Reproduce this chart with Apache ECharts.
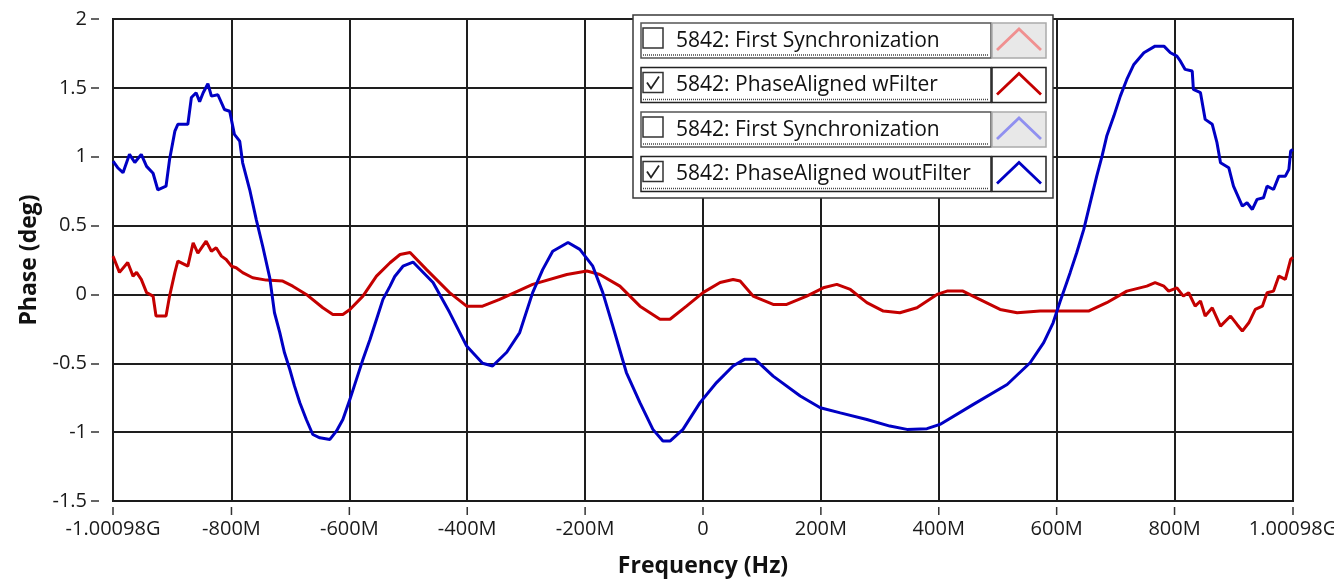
<!DOCTYPE html>
<html>
<head>
<meta charset="utf-8">
<title>Phase vs Frequency</title>
<script src="https://cdn.jsdelivr.net/npm/echarts@6/dist/echarts.min.js"></script>
<style>
  html, body { margin: 0; padding: 0; background: #fff; }
  #chart { width: 1334px; height: 582px; }
</style>
</head>
<body>
<div id="chart"></div>
<script>
// x in MHz, y in degrees
const xTicks = [-1000.98, -800, -600, -400, -200, 0, 200, 400, 600, 800, 1000.98];

const freqRed = [-1000.98, -990, -976, -967, -961, -953, -944, -933, -928, -911, -905, -896, -891, -874,
  -865, -857, -843, -834, -826, -817, -809, -800, -792, -781, -764, -741, -713, -696, -673, -645, -628,
  -611, -599, -577, -554, -531, -514, -497, -469, -430, -401, -374, -345, -289, -231, -197, -175, -141,
  -107, -73, -56, -28, 0, 29, 51, 63, 85, 119, 142, 176, 204, 227, 250, 278, 306, 334, 363, 397, 414,
  441, 458, 504, 533, 572, 654, 685, 719, 753, 767, 782, 790, 804, 815, 824, 835, 844, 852, 864, 878,
  895, 906, 915, 926, 937, 949, 957, 968, 977, 988, 997, 1000.98];
const phaseRed = [0.278, 0.16, 0.232, 0.133, 0.16, 0.109, 0.013, -0.012, -0.157, -0.157, -0.012, 0.16, 0.242, 0.205,
  0.375, 0.30, 0.387, 0.314, 0.339, 0.278, 0.254, 0.205, 0.194, 0.158, 0.121, 0.104, 0.097, 0.06, 0, -0.097, -0.145,
  -0.145, -0.109, -0.012, 0.133, 0.23, 0.29, 0.305, 0.18, 0.013, -0.085, -0.085, -0.036, 0.073, 0.145, 0.17, 0.145, 0.06,
  -0.085, -0.18, -0.18, -0.085, 0.013, 0.087, 0.109, 0.097, -0.012, -0.073, -0.073, -0.012, 0.048, 0.073, 0.036, -0.06, -0.121, -0.133, -0.097, 0, 0.024,
  0.024, -0.012, -0.109, -0.133, -0.121, -0.121, -0.06, 0.024, 0.06, 0.085, 0.06, 0.024, 0.048, -0.012, 0.012, -0.085, -0.048, -0.157, -0.097, -0.23,
  -0.157, -0.218, -0.266, -0.206, -0.109, -0.085, 0.012, 0.024, 0.133, 0.109, 0.254, 0.27];

const freqBlue = [-1000.98, -993, -984, -973, -964, -953, -944, -933, -925, -911, -905, -896, -891, -874,
  -868, -860, -854, -848, -840, -834, -823, -812, -803, -795, -786, -781, -769, -758, -747, -735, -727,
  -718, -710, -701, -693, -684, -673, -662, -650, -633, -622, -611, -599, -588, -577, -565, -554, -543,
  -531, -523, -509, -492, -458, -430, -401, -374, -357, -333, -311, -289, -272, -255, -229, -209, -187,
  -170, -153, -130, -107, -85, -68, -56, -34, -5, 23, 51, 71, 88, 119, 165, 199, 233, 278, 317, 346, 380,
  402, 458, 516, 555, 578, 594, 606, 617, 623, 634, 646, 657, 668, 677, 685, 697, 708, 719, 731, 748, 767,
  782, 793, 804, 810, 818, 830, 832, 844, 852, 864, 872, 878, 892, 900, 915, 923, 932, 940, 951, 957, 968,
  977, 988, 994, 997, 1000.98];
const phaseBlue = [0.968, 0.92, 0.884, 1.017, 0.958, 1.017, 0.93, 0.88, 0.76, 0.786, 0.98, 1.186, 1.235, 1.235,
  1.43, 1.465, 1.40, 1.465, 1.53, 1.44, 1.45, 1.343, 1.33, 1.162, 1.113, 0.956, 0.76, 0.545, 0.35, 0.12, -0.133,
  -0.278, -0.424, -0.545, -0.666, -0.786, -0.908, -1.017, -1.041, -1.053, -0.993, -0.908, -0.762, -0.617, -0.472, -0.327, -0.182, -0.036,
  0.06, 0.13, 0.205, 0.235, 0.087, -0.13, -0.375, -0.50, -0.52, -0.42, -0.277, 0.013, 0.18, 0.314, 0.377, 0.327, 0.205,
  0.013, -0.23, -0.567, -0.786, -0.98, -1.065, -1.065, -0.98, -0.786, -0.64, -0.52, -0.47, -0.47, -0.593, -0.738, -0.823, -0.86, -0.908, -0.956, -0.98, -0.975,
  -0.944, -0.80, -0.654, -0.496, -0.35, -0.206, -0.05, 0.085, 0.16, 0.303, 0.472, 0.666, 0.859, 1.004, 1.15, 1.295, 1.44, 1.561, 1.67, 1.755, 1.803,
  1.803, 1.755, 1.73, 1.694, 1.634, 1.622, 1.489, 1.465, 1.271, 1.235, 1.102, 0.956, 0.92, 0.786, 0.641, 0.666, 0.617, 0.69, 0.702, 0.786, 0.762,
  0.859, 0.859, 0.908, 1.041, 1.053];

const legendNames = ['5842: First Synchronization', '5842: PhaseAligned wFilter',
  '5842: First Synchronization', '5842: PhaseAligned woutFilter'];
const legendChecked = [false, true, false, true];
const legendColors = ['#f09090', '#c40000', '#9090f0', '#0000c4'];

const font = '"Open Sans", "Noto Sans", sans-serif';
const red = '#c40000';
const blue = '#0000c4';

const fmtFreq = v => {
  if (Math.abs(v) > 1000) return (v / 1000).toFixed(5) + 'G';
  if (v === 0) return '0';
  return v + 'M';
};

// legend box drawn by hand: checkboxes and line icons like the original
const legendParts = [{
  type: 'rect', shape: { x: 0, y: 0, width: 420, height: 183 },
  style: { fill: '#fff', stroke: '#3a3a3a', lineWidth: 1.5 }
}];
legendNames.forEach((name, i) => {
  const top = 8 + i * 44.5;
  const on = legendChecked[i];
  legendParts.push(
    { type: 'rect', shape: { x: 8, y: top, width: 350, height: 35 },
      style: { fill: '#fff', stroke: on ? '#222' : '#555', lineWidth: 1.5 } },
    { type: 'line', shape: { x1: 10, y1: top + 32, x2: 356, y2: top + 32 },
      style: { stroke: '#444', lineWidth: 1.5, lineDash: [1, 1] } },
    { type: 'rect', shape: { x: 10, y: top + 5, width: 20, height: 20 },
      style: { fill: '#fff', stroke: '#333', lineWidth: 1.5 } },
    { type: 'text', x: 43, y: top + 18,
      style: { text: name, fontFamily: font, fontSize: 21, fill: '#111', verticalAlign: 'middle' } },
    { type: 'rect', shape: { x: 359, y: top, width: 54, height: 35 },
      style: { fill: on ? '#fff' : '#e8e8e8', stroke: on ? '#222' : '#aaa', lineWidth: 1.5 } },
    { type: 'polyline', shape: { points: [[364, top + 27], [386, top + 6], [408, top + 27]] },
      style: { stroke: legendColors[i], lineWidth: 2.8, fill: null } }
  );
  if (on) {
    legendParts.push({ type: 'polyline', shape: { points: [[14, top + 15], [18, top + 21], [26, top + 9]] },
      style: { stroke: '#222', lineWidth: 1.8, fill: null } });
  }
});

const chart = echarts.init(document.getElementById('chart'));
chart.setOption({
  animation: false,
  backgroundColor: '#fff',
  grid: {
    left: 113, right: 41, top: 19, bottom: 81,
    show: true, borderColor: '#1a1a1a', borderWidth: 2, backgroundColor: '#fff',
    containLabel: false, outerBoundsMode: 'none'
  },
  xAxis: {
    type: 'value', min: -1000.98, max: 1000.98,
    name: 'Frequency (Hz)', nameLocation: 'middle', nameGap: 54,
    nameTextStyle: { fontFamily: font, fontSize: 23, fontWeight: 'bold', color: '#111' },
    axisLine: { show: true, onZero: false, lineStyle: { color: '#1a1a1a', width: 2 } },
    axisTick: { show: false, customValues: xTicks },
    axisLabel: { customValues: xTicks, formatter: fmtFreq, margin: 18, fontFamily: font, fontSize: 20,
      color: '#1a1a1a', showMinLabel: true, showMaxLabel: true, hideOverlap: false },
    splitLine: { show: true, lineStyle: { color: '#1e1e1e', width: 2 } }
  },
  yAxis: {
    type: 'value', min: -1.5, max: 2, interval: 0.5, offset: 14,
    name: 'Phase (deg)', nameLocation: 'middle', nameGap: 58,
    nameTextStyle: { fontFamily: font, fontSize: 23, fontWeight: 'bold', color: '#111' },
    axisLine: { show: true, onZero: false, lineStyle: { color: 'rgba(0,0,0,0)' } },
    axisTick: { show: true, length: 8, lineStyle: { color: '#333', width: 1.5 } },
    axisLabel: { margin: 12, fontFamily: font, fontSize: 20, color: '#1a1a1a' },
    splitLine: { show: true, lineStyle: { color: '#1e1e1e', width: 2 } }
  },
  series: [
    {
      name: '5842: PhaseAligned wFilter', type: 'line', symbol: 'none',
      data: freqRed.map((f, i) => [f, phaseRed[i]]),
      lineStyle: { color: red, width: 3 }, itemStyle: { color: red }
    },
    {
      name: '5842: PhaseAligned woutFilter', type: 'line', symbol: 'none',
      data: freqBlue.map((f, i) => [f, phaseBlue[i]]),
      lineStyle: { color: blue, width: 3 }, itemStyle: { color: blue }
    }
  ]
});

// x tick marks sit a little below the frame, placed through the axis scale
const axisY = chart.convertToPixel({ yAxisIndex: 0 }, -1.5);
const tickMarks = xTicks.map(v => {
  const px = chart.convertToPixel({ xAxisIndex: 0 }, v);
  return { type: 'line', shape: { x1: px, y1: axisY + 6, x2: px, y2: axisY + 14 },
    style: { stroke: '#333', lineWidth: 1.5 } };
});

chart.setOption({
  graphic: [
    { type: 'group', x: 633, y: 15, z: 100, children: legendParts },
    { type: 'group', x: 0, y: 0, z: 100, children: tickMarks }
  ]
});
</script>
</body>
</html>
